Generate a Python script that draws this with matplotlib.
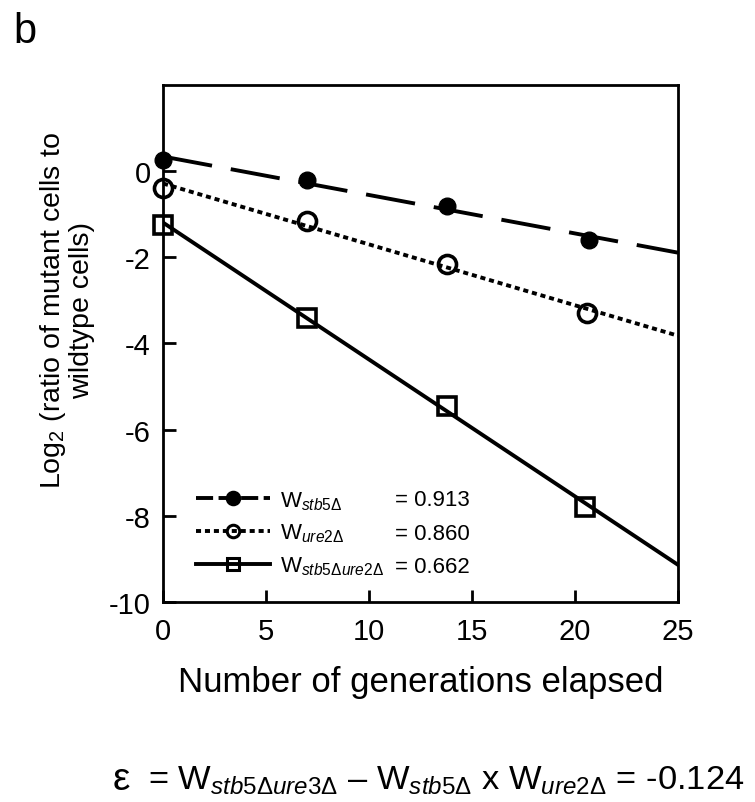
import numpy as np
import matplotlib
matplotlib.use("Agg")
import matplotlib.pyplot as plt
from matplotlib.lines import Line2D

plt.rcParams['font.family'] = ['Liberation Sans', 'DejaVu Sans']
plt.rcParams['mathtext.fontset'] = 'custom'
plt.rcParams['mathtext.rm'] = 'Liberation Sans'
plt.rcParams['mathtext.it'] = 'Liberation Sans:italic'
plt.rcParams['mathtext.bf'] = 'Liberation Sans:bold'
plt.rcParams['lines.dash_capstyle'] = 'butt'

# data
gen_stb5 = [0, 7.0, 13.8, 20.7]
log_stb5 = [0.25, -0.2, -0.8, -1.6]
gen_ure2 = [0, 7.0, 13.8, 20.6]
log_ure2 = [-0.4, -1.15, -2.15, -3.3]
gen_dbl = [0, 7.0, 13.8, 20.5]
log_dbl = [-1.25, -3.4, -5.45, -7.8]
labels = [r'W$_{\mathit{stb5Δ}}$', r'W$_{\mathit{ure2Δ}}$', r'W$_{\mathit{stb5Δure2Δ}}$']
fitness = ['= 0.913', '= 0.860', '= 0.662']
xticks = [0, 5, 10, 15, 20, 25]
yticks = [0, -2, -4, -6, -8, -10]

fig = plt.figure(figsize=(7.55, 8.03), dpi=100)
ax = fig.add_axes([0.216, 0.249, 0.682, 0.644])

xfit = np.array([0, 25])
lw = 2.8
styles = [
    dict(marker='o', mfc='black', mec='black', ms=12, mew=1, dashes=(12.8, 4.9), ldash=(4.4, 1.4)),
    dict(marker='o', mfc='none', mec='black', ms=13, mew=2.6, dashes=(1.3, 1.0), ldash=(1.3, 1.0)),
    dict(marker='s', mfc='none', mec='black', ms=13, mew=2.6, dashes=None, ldash=None),
]
handles = []
for (gx, gy, st) in zip([gen_stb5, gen_ure2, gen_dbl], [log_stb5, log_ure2, log_dbl], styles):
    p = np.polyfit(gx, gy, 1)
    ls = '-' if st['dashes'] is None else (0, st['dashes'])
    ax.plot(xfit, np.polyval(p, xfit), color='black', lw=lw, linestyle=ls, zorder=2)
    ax.plot(gx, gy, linestyle='none', marker=st['marker'], mfc=st['mfc'], mec=st['mec'],
            ms=st['ms'], mew=st['mew'], clip_on=False, zorder=3)
    lls = '-' if st['ldash'] is None else (0, st['ldash'])
    handles.append(Line2D([], [], color='black', lw=lw, linestyle=lls, marker=st['marker'],
                          mfc=st['mfc'], mec=st['mec'], ms=9, mew=2.2))

leg = ax.legend(handles, labels, loc='lower left', bbox_to_anchor=(0.043, 0.027), frameon=False,
                fontsize=16, handlelength=3.3, handletextpad=0.45, labelspacing=0.45, borderpad=0)

for i, f in enumerate(fitness):
    ax.text(0.45, 0.198 - i * 0.065, f, transform=ax.transAxes, fontsize=16, va='center', ha='left')

ax.set_xlim(0, 25)
ax.set_ylim(-10, 2)
ax.set_xticks(xticks)
ax.set_yticks(yticks)
ax.set_xticklabels([str(t) for t in xticks])
ax.set_yticklabels([str(t) for t in yticks])
ax.tick_params(direction='in', length=9, width=2, labelsize=21)
ax.tick_params(axis='x', pad=11)
ax.tick_params(axis='y', pad=9)
for s in ax.spines.values():
    s.set_linewidth(2)

ax.set_xlabel('Number of generations elapsed', fontsize=25, labelpad=14)
ax.set_ylabel('Log$_2$ (ratio of mutant cells to\nwildtype cells)', fontsize=20.5, linespacing=1.05)
ax.yaxis.set_label_coords(-0.132, 0.565)
ax.yaxis.label.set_va('bottom')

fig.text(0.018, 1 - 43 / 803, 'b', fontsize=30, va='baseline', ha='left')
fig.text(113 / 755, 1 - 790 / 803, 'ε', fontsize=28, va='baseline', ha='left')
fig.text(148 / 755, 1 - 790 / 803, r'= W$_{\mathit{stb5Δure3Δ}}$ – W$_{\mathit{stb5Δ}}$ x W$_{\mathit{ure2Δ}}$ = -0.124',
         fontsize=24.8, va='baseline', ha='left')

fig.savefig('out.png', dpi=100)
